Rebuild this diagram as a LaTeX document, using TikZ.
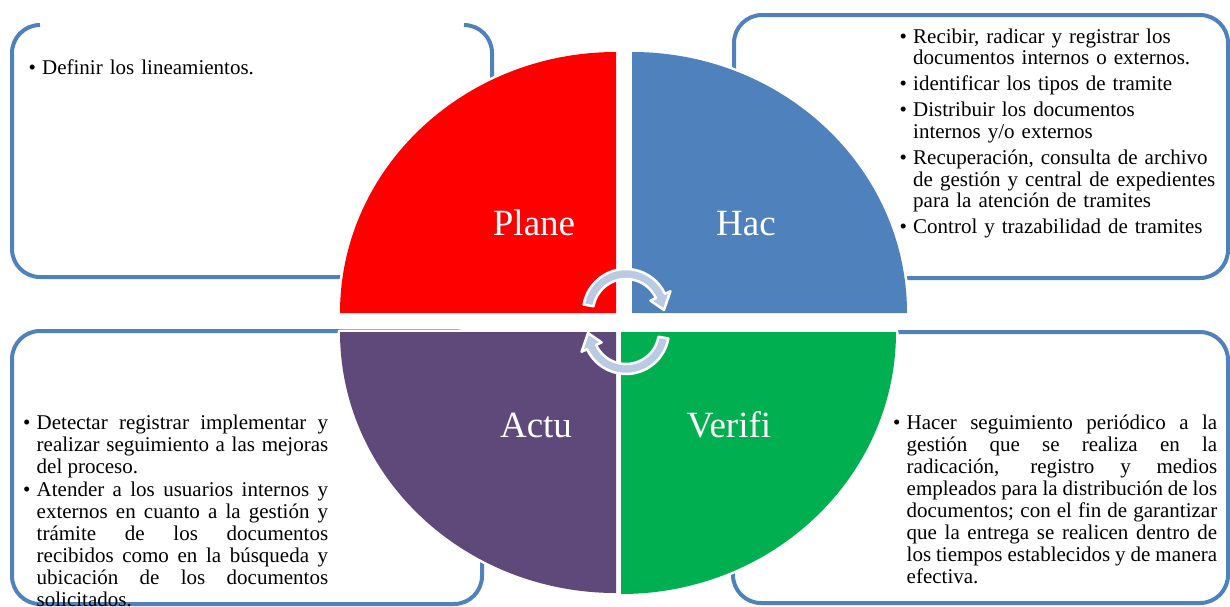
\documentclass[tikz,border=0pt]{standalone}
\usepackage{fontspec}
\setmainfont{Liberation Serif}
\definecolor{qred}{HTML}{FF0000}
\definecolor{qblue}{HTML}{4F81BD}
\definecolor{qpurple}{HTML}{5F497A}
\definecolor{qgreen}{HTML}{00B050}
\definecolor{boxline}{HTML}{4F81BD}
\definecolor{arrowfill}{HTML}{BACAE3}
\newlength\hangw \setlength\hangw{13.5pt}
\newcommand\bul{\noindent\hangindent=\hangw\hangafter=1\makebox[\hangw][l]{\textbullet}}
\newcommand\nl{\hfil\break}
\tikzset{
  panel/.style={draw=boxline, line width=4pt, rounded corners=28pt},
  bodytext/.style={inner sep=0pt, anchor=base west, font=\fontsize{21}{22}\selectfont},
  quadlabel/.style={text=white, font=\fontsize{37}{40}\selectfont, inner sep=0pt, anchor=base},
  quadedge/.style={draw=white, line width=5pt, line join=round},
  cyc/.style={fill=arrowfill, draw=white, line width=2.5pt, line join=round},
}
\begin{document}
\begin{tikzpicture}[x=1pt, y=-1pt]
\useasboundingbox (0,0) rectangle (1230,606);
% panels
\draw[panel] (40,25) -- (12,25) -- (12,277) -- (492,277) -- (492,25) -- (464,25);
\draw[panel] (734,15) rectangle (1228,278);
\draw[panel] (12,331) rectangle (482,604);
\draw[panel] (733,332) rectangle (1228,603);
% quadrants
\path[quadedge] (616,313) -- (340,313) arc[start angle=180,end angle=270,x radius=276,y radius=261] -- cycle;
\fill[qred] (616,313) -- (340,313) arc[start angle=180,end angle=270,x radius=276,y radius=261] -- cycle;
\path[quadedge] (632,313) -- (632,52) arc[start angle=270,end angle=360,x radius=275,y radius=261] -- cycle;
\fill[qblue] (632,313) -- (632,52) arc[start angle=270,end angle=360,x radius=275,y radius=261] -- cycle;
\path[quadedge] (616,332) -- (340,332) arc[start angle=180,end angle=90,x radius=276,y radius=261] -- cycle;
\fill[qpurple] (616,332) -- (340,332) arc[start angle=180,end angle=90,x radius=276,y radius=261] -- cycle;
\path[quadedge] (621,332) -- (896,332) arc[start angle=0,end angle=90,x radius=275,y radius=262] -- cycle;
\fill[qgreen] (621,332) -- (896,332) arc[start angle=0,end angle=90,x radius=275,y radius=262] -- cycle;
% cycle arrows
\begin{scope}[shift={(626,312)}]
\path[cyc] (190:43) arc[start angle=190,end angle=335,radius=43] -- (335:49) -- (357:38) -- (335:27) -- (335:33) arc[start angle=335,end angle=190,radius=33] -- cycle;
\end{scope}
\begin{scope}[shift={(626,331)}, rotate=180]
\path[cyc] (190:43) arc[start angle=190,end angle=335,radius=43] -- (335:49) -- (357:38) -- (335:27) -- (335:33) arc[start angle=335,end angle=190,radius=33] -- cycle;
\end{scope}
% labels
\node[quadlabel] (plane) at (534,235) {Plane};
\node[quadlabel] (hac) at (746,235) {Hac};
\node[quadlabel] (actu) at (536,437) {Actu};
\node[quadlabel] (verifi) at (729,437) {Verifi};
% texts
\node[bodytext, text width=300pt, align=left] (tplane) at (28.5,74) {\bul Definir los lineamientos.\par};
\node[bodytext, text width=330pt, align=left, font=\fontsize{21}{21.7}\selectfont] (thac) at (899.5,43) {\setlength\parskip{4.3pt}%
\bul Recibir, radicar y registrar los\nl documentos internos o externos.\par
\bul identificar los tipos de tramite\par
\bul Distribuir los documentos\nl internos y/o externos\par
\bul Recuperación, consulta de archivo\nl de gestión y central de expedientes\nl para la atención de tramites\par
\bul Control y trazabilidad de tramites\par};
\node[bodytext, text width=305pt, align=justify] (tactu) at (23,429) {\setlength\parskip{1pt}%
\bul Detectar registrar implementar y\linebreak realizar seguimiento a las mejoras\linebreak del proceso.\par
\bul Atender a los usuarios internos y\linebreak externos en cuanto a la gestión y\linebreak trámite de los documentos\linebreak recibidos como en la búsqueda y\linebreak ubicación de los documentos\linebreak solicitados.\par};
\node[bodytext, text width=324pt, align=justify] (tverifi) at (893,429) {%
\bul Hacer seguimiento periódico a la\linebreak gestión que se realiza en la\linebreak radicación, registro y medios\linebreak empleados para la distribución de los\linebreak documentos; con el fin de garantizar\linebreak que la entrega se realicen dentro de\linebreak los tiempos establecidos y de manera\linebreak efectiva.\par};
\end{tikzpicture}
\end{document}
